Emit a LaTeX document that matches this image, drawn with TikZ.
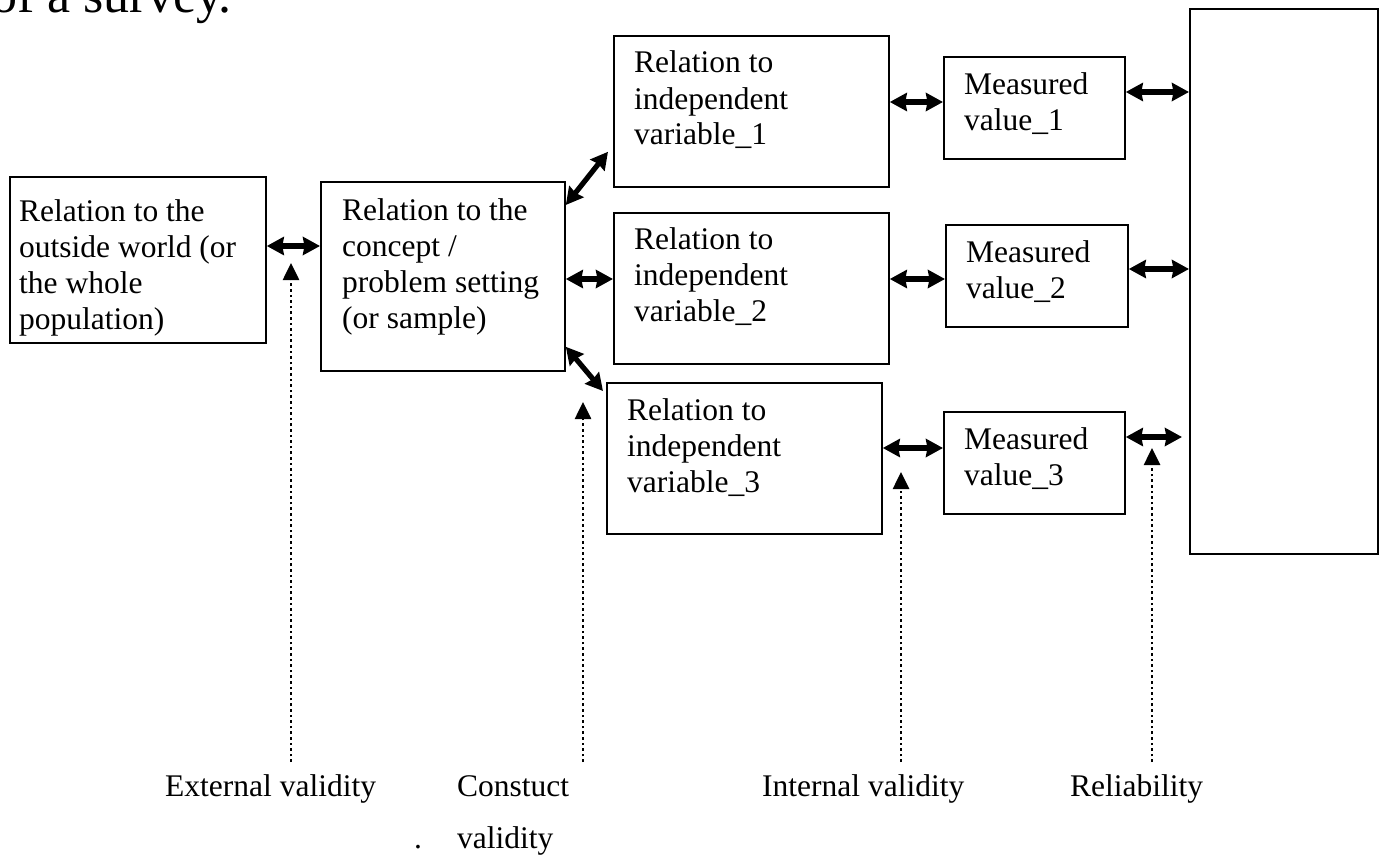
\documentclass[tikz,border=0pt]{standalone}
\usepackage{fontspec}
\setmainfont{Liberation Serif}
\usetikzlibrary{arrows.meta,calc}
\begin{document}
\begin{tikzpicture}[x=1pt,y=-1pt,
  box/.style={draw, line width=1.8pt, inner sep=0pt, anchor=north west},
  txt/.style={anchor=base west, inner sep=0pt, font=\fontsize{31.5}{36}\selectfont},
  dbl/.style={line width=5.2pt, {Stealth[length=17pt,width=18pt,inset=1.5pt]}-{Stealth[length=17pt,width=18pt,inset=1.5pt]}},
  dotarr/.style={line width=2.6pt, dash pattern=on 2.6pt off 3pt, -{Triangle[length=17pt,width=16pt]}}]
\useasboundingbox (0,0) rectangle (1387,859);
\clip (0,0) rectangle (1387,859);

% title fragment
\node[anchor=base west, inner sep=0pt, font=\fontsize{52}{60}\selectfont] (title) at (-9,13) {of a survey.};

% boxes
\node[box, minimum width=256pt, minimum height=166pt] (A) at (9,176) {};
\node[box, minimum width=244pt, minimum height=189pt] (B) at (320,181) {};
\node[box, minimum width=275pt, minimum height=151pt] (C1) at (613,35) {};
\node[box, minimum width=275pt, minimum height=151pt] (C2) at (613,212) {};
\node[box, minimum width=275pt, minimum height=151pt] (C3) at (606,382) {};
\node[box, minimum width=181pt, minimum height=102pt] (M1) at (943,56) {};
\node[box, minimum width=182pt, minimum height=102pt] (M2) at (945,224) {};
\node[box, minimum width=181pt, minimum height=102pt] (M3) at (943,411) {};
\node[box, minimum width=188pt, minimum height=545pt] (R) at (1189,8) {};

% texts
\node[txt] (tA) at (19,221) {\vtop{\hbox{Relation to the}\hbox{outside world (or}\hbox{the whole}\hbox{population)}}};
\node[txt] (tB) at (342,220) {\vtop{\hbox{Relation to the}\hbox{concept /}\hbox{problem setting}\hbox{(or sample)}}};
\node[txt] (tC1) at (634,73) {\vtop{\hbox{Relation to}\hbox{independent}\hbox{variable\_1}}};
\node[txt] (tC2) at (634,249) {\vtop{\hbox{Relation to}\hbox{independent}\hbox{variable\_2}}};
\node[txt] (tC3) at (627,420) {\vtop{\hbox{Relation to}\hbox{independent}\hbox{variable\_3}}};
\node[txt] (tM1) at (964,94) {\vtop{\hbox{Measured}\hbox{value\_1}}};
\node[txt] (tM2) at (966,262) {\vtop{\hbox{Measured}\hbox{value\_2}}};
\node[txt] (tM3) at (964,449) {\vtop{\hbox{Measured}\hbox{value\_3}}};

% bottom labels
\node[txt] (lExt) at (165,796) {External validity};
\node[txt] (lCon) at (457,796) {\vtop{\baselineskip=52pt\hbox{Constuct}\hbox{validity}}};
\node[txt] (lDot) at (414,848) {.};
\node[txt] (lInt) at (762,796) {Internal validity};
\node[txt] (lRel) at (1070,796) {Reliability};

% helper coordinates for connector heights
\coordinate (y92) at (0,92);
\coordinate (y102) at (0,102);
\coordinate (y246) at (0,246);
\coordinate (y269) at (0,269);
\coordinate (y279) at (0,279);
\coordinate (y437) at (0,437);
\coordinate (y448) at (0,448);
\coordinate (m3end) at (1182,437);

% double arrows
\draw[dbl] (A.east |- y246) -- (B.west |- y246);
\draw[dbl] ($(B.north east)+(0,24)$) -- ($(C1.south west)+(-5,-36)$);
\draw[dbl] (B.east |- y279) -- (C2.west |- y279);
\draw[dbl] ($(B.south east)+(0,-25)$) -- ($(C3.north west)+(-3,9)$);
\draw[dbl] (C1.east |- y102) -- (M1.west |- y102);
\draw[dbl] (C2.east |- y279) -- (M2.west |- y279);
\draw[dbl] (C3.east |- y448) -- (M3.west |- y448);
\draw[dbl] (M1.east |- y92) -- (R.west |- y92);
\draw[dbl] (M2.east |- y269) -- (R.west |- y269);
\draw[dbl] (M3.east |- y437) -- (m3end);

% dotted arrows
\coordinate (d1b) at (291,762); \coordinate (d1t) at (291,263);
\coordinate (d2b) at (583,762); \coordinate (d2t) at (583,402);
\coordinate (d3b) at (901,762); \coordinate (d3t) at (901,472);
\coordinate (d4b) at (1152,762); \coordinate (d4t) at (1152,448);
\draw[dotarr] (d1b) -- (d1t);
\draw[dotarr] (d2b) -- (d2t);
\draw[dotarr] (d3b) -- (d3t);
\draw[dotarr] (d4b) -- (d4t);
\end{tikzpicture}
\end{document}
